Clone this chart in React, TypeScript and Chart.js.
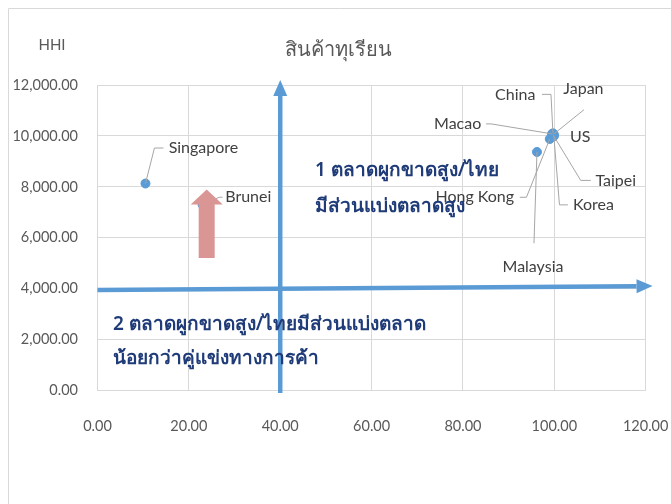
import React, { useEffect, useRef } from "react";
import { Chart, registerables } from "chart.js";

Chart.register(...registerables);

// Thai market share (%) vs. HHI per export market
const countries = ["Singapore", "Brunei", "Malaysia", "Hong Kong", "Macao", "China", "Japan", "US", "Taipei", "Korea"];
const thaiShare = [10.5, 23.0, 96.2, 99.0, 99.5, 99.7, 99.8, 99.9, 99.8, 99.9];
const hhiValues = [8130, 7300, 9370, 9880, 10080, 10100, 10060, 10050, 10020, 9990];

const xTickValues = [0, 20, 40, 60, 80, 100, 120];
const yTickValues = [0, 2000, 4000, 6000, 8000, 10000, 12000];

const chartTitle = "สินค้าทุเรียน";
const yAxisName = "HHI";
const quadrant1 = ["1 ตลาดผูกขาดสูง/ไทย", "มีส่วนแบ่งตลาดสูง"];
const quadrant2 = ["2 ตลาดผูกขาดสูง/ไทยมีส่วนแบ่งตลาด", "น้อยกว่าคู่แข่งทางการค้า"];

// quadrant dividers (data units)
const splitX = 40;
const splitY = 4000;

// label placement relative to each point, in px; leader = elbow points before reaching the marker
const labelLayout: Record<string, { dx: number; dy: number; leader: number[][] }> = {
  Singapore: { dx: 58, dy: -35.5, leader: [[18, -35.5], [9, -35.5]] },
  Brunei: { dx: 45.7, dy: -7.4, leader: [[20, -7.4], [16.7, -7.4]] },
  Malaysia: { dx: -4, dy: 114.7, leader: [[-3, 91.3]] },
  "Hong Kong": { dx: -75, dy: 58.3, leader: [[-30, 58.3], [-23.3, 58.3]] },
  Macao: { dx: -94.4, dy: -9.7, leader: [[-66, -10], [-61, -10]] },
  China: { dx: -37.7, dy: -39, leader: [[-11, -39], [-2, -39]] },
  Japan: { dx: 30, dy: -45.7, leader: [[30.6, -24.7]] },
  US: { dx: 26.3, dy: 1.7, leader: [] },
  Taipei: { dx: 62.3, dy: 45.3, leader: [[37.3, 45], [27.3, 45]] },
  Korea: { dx: 39.6, dy: 68.7, leader: [[14, 68.7], [5.6, 68.7]] },
};

const W = 671;
const H = 504;
const FRAME = 8; // chart frame inset from the page corner

const FONT = '"Noto Sans", "DejaVu Sans", sans-serif';
const LABEL_FONT = 'Lato, "Noto Sans", sans-serif';
const BLUE = "#5B9BD5";
const GRID = "#D9D9D9";
const NAVY = "#1F3B78";

const fmt = (v: number) =>
  v.toLocaleString("en-US", { minimumFractionDigits: 2, maximumFractionDigits: 2 });

function drawArrow(ctx: CanvasRenderingContext2D, x1: number, y1: number, x2: number, y2: number) {
  const ang = Math.atan2(y2 - y1, x2 - x1);
  const headLen = 16;
  const headHalf = 7;
  const bx = x2 - Math.cos(ang) * headLen;
  const by = y2 - Math.sin(ang) * headLen;
  ctx.save();
  ctx.strokeStyle = BLUE;
  ctx.fillStyle = BLUE;
  ctx.lineWidth = 4.5;
  ctx.beginPath();
  ctx.moveTo(x1, y1);
  ctx.lineTo(bx, by);
  ctx.stroke();
  ctx.beginPath();
  ctx.moveTo(x2, y2);
  ctx.lineTo(bx + Math.sin(ang) * headHalf, by - Math.cos(ang) * headHalf);
  ctx.lineTo(bx - Math.sin(ang) * headHalf, by + Math.cos(ang) * headHalf);
  ctx.closePath();
  ctx.fill();
  ctx.restore();
}

const overlayPlugin = {
  id: "overlay",
  beforeDraw(chart: any) {
    const ctx = chart.ctx as CanvasRenderingContext2D;
    ctx.save();
    ctx.fillStyle = "#fff";
    ctx.fillRect(0, 0, chart.width, chart.height);
    ctx.strokeStyle = GRID;
    ctx.lineWidth = 1;
    ctx.beginPath();
    ctx.moveTo(FRAME + 0.5, chart.height);
    ctx.lineTo(FRAME + 0.5, FRAME + 0.5);
    ctx.lineTo(chart.width, FRAME + 0.5);
    ctx.stroke();
    ctx.fillStyle = "#595959";
    ctx.textAlign = "center";
    ctx.textBaseline = "middle";
    ctx.font = `20px ${FONT}`;
    ctx.fillText(chartTitle, 338, 50);
    ctx.font = `15px ${LABEL_FONT}`;
    ctx.fillText(yAxisName, 52, 45.5);
    ctx.restore();
  },
  afterDatasetsDraw(chart: any) {
    const ctx = chart.ctx as CanvasRenderingContext2D;
    const xs = chart.scales.x;
    const ys = chart.scales.y;
    const meta = chart.getDatasetMeta(0);
    ctx.save();
    // data labels with leader lines
    ctx.font = `16px ${LABEL_FONT}`;
    ctx.textAlign = "center";
    ctx.textBaseline = "middle";
    meta.data.forEach((el: any, i: number) => {
      const name = countries[i];
      const lay = labelLayout[name];
      if (!lay) return;
      if (lay.leader.length) {
        ctx.strokeStyle = "#A6A6A6";
        ctx.lineWidth = 1;
        ctx.beginPath();
        ctx.moveTo(el.x + lay.leader[0][0], el.y + lay.leader[0][1]);
        for (let k = 1; k < lay.leader.length; k++) ctx.lineTo(el.x + lay.leader[k][0], el.y + lay.leader[k][1]);
        ctx.lineTo(el.x, el.y);
        ctx.stroke();
      }
      ctx.fillStyle = "#404040";
      ctx.fillText(name, el.x + lay.dx, el.y + lay.dy);
    });

    // pink upward block arrow
    const tipX = xs.getPixelForValue(23.9);
    const tipY = ys.getPixelForValue(7900);
    const baseY = ys.getPixelForValue(5200);
    ctx.fillStyle = "#DA9694";
    ctx.beginPath();
    ctx.moveTo(tipX, tipY);
    ctx.lineTo(tipX + 16, tipY + 15);
    ctx.lineTo(tipX + 8, tipY + 15);
    ctx.lineTo(tipX + 8, baseY);
    ctx.lineTo(tipX - 8, baseY);
    ctx.lineTo(tipX - 8, tipY + 15);
    ctx.lineTo(tipX - 16, tipY + 15);
    ctx.closePath();
    ctx.fill();

    // quadrant arrows
    drawArrow(ctx, xs.getPixelForValue(splitX), ys.getPixelForValue(-100), xs.getPixelForValue(splitX), ys.getPixelForValue(12200));
    drawArrow(ctx, xs.getPixelForValue(0), ys.getPixelForValue(splitY - 50), xs.getPixelForValue(121.5), ys.getPixelForValue(splitY + 100));

    // quadrant captions
    ctx.fillStyle = NAVY;
    ctx.textAlign = "left";
    ctx.textBaseline = "middle";
    ctx.font = `600 19px ${FONT}`;
    ctx.fillText(quadrant1[0], 315, 171);
    ctx.fillText(quadrant1[1], 315, 207);
    ctx.fillText(quadrant2[0], 113, 325);
    ctx.fillText(quadrant2[1], 113, 359);
    ctx.restore();
  },
};

export default function App() {
  const ref = useRef<HTMLCanvasElement>(null);
  useEffect(() => {
    if (!ref.current) return;
    const chart = new Chart(ref.current, {
      type: "scatter",
      data: {
        datasets: [
          {
            data: thaiShare.map((x, i) => ({ x, y: hhiValues[i] })),
            backgroundColor: BLUE,
            borderColor: BLUE,
            pointRadius: 4.5,
          },
        ],
      },
      options: {
        responsive: false,
        animation: false,
        layout: { padding: { left: FRAME, top: 85, right: 25.3, bottom: 0 } },
        plugins: { legend: { display: false }, tooltip: { enabled: false }, title: { display: false } },
        scales: {
          x: {
            type: "linear",
            min: 0,
            max: 120,
            afterBuildTicks: (s: any) => { s.ticks = xTickValues.map((v) => ({ value: v })); },
            afterFit: (s: any) => { s.height = 113.5; s.paddingLeft = 0; s.paddingRight = 0; },
            grid: { color: GRID, drawTicks: false },
            border: { color: GRID },
            ticks: { padding: 27, color: "#595959", font: { family: LABEL_FONT, size: 14.5 }, callback: (v: any) => fmt(Number(v)) },
          },
          y: {
            type: "linear",
            min: 0,
            max: 12000,
            afterBuildTicks: (s: any) => { s.ticks = yTickValues.map((v) => ({ value: v })); },
            afterFit: (s: any) => { s.width = 89.5; s.paddingTop = 0; s.paddingBottom = 0; },
            grid: { color: GRID, drawTicks: false },
            border: { color: GRID },
            ticks: { padding: 19.5, color: "#595959", font: { family: LABEL_FONT, size: 14.5 }, callback: (v: any) => fmt(Number(v)) },
          },
        },
      },
      plugins: [overlayPlugin],
    });
    return () => chart.destroy();
  }, []);
  return (
    <div style={{ position: "fixed", left: 0, top: 0, width: W, height: H, overflow: "hidden" }}>
      <canvas ref={ref} width={W} height={H} style={{ display: "block", width: W, height: H }} />
    </div>
  );
}
